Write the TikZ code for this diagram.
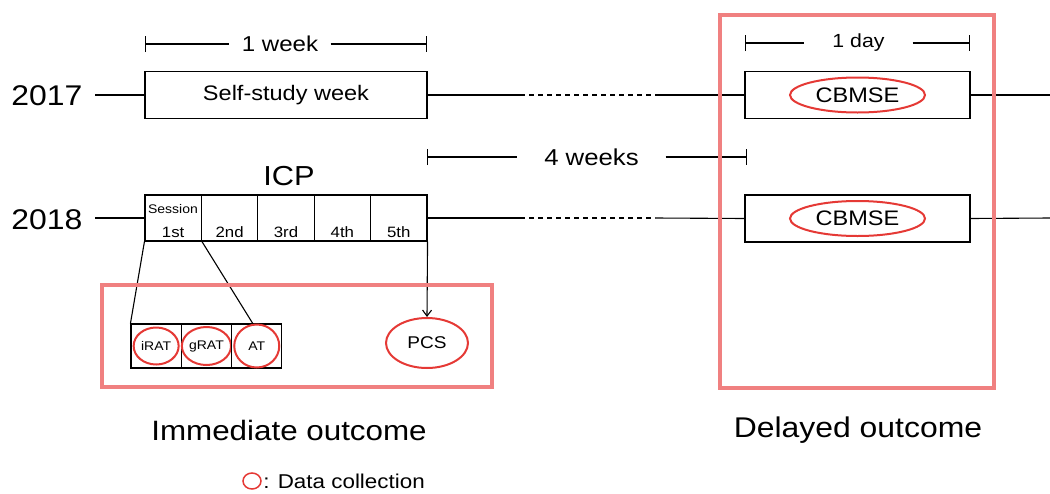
\documentclass[tikz,border=0pt]{standalone}
\usepackage{fontspec}
\setmainfont[FakeStretch=1.12]{Liberation Sans}
\usetikzlibrary{calc,positioning,shapes.geometric,arrows.meta}
\definecolor{boxred}{HTML}{F08080}
\definecolor{ringred}{HTML}{E53935}
\newcommand{\fsz}[1]{\fontsize{#1}{#1}\selectfont}

\begin{document}
\begin{tikzpicture}[x=1pt,y=-1pt,line width=1.1pt,
        period/.style={draw,minimum height=47pt,inner sep=0pt,font=\fsz{21}},
        session/.style={draw,minimum width=\sw pt,minimum height=46pt,inner sep=0pt},
        test/.style={draw,minimum width=50.3pt,minimum height=44pt,inner sep=0pt},
        ring/.style={draw=ringred,ellipse,line width=2pt,inner sep=0pt},
        spanlabel/.style={minimum width=#1,inner sep=0pt},
        year/.style={font=\fsz{28.5}},
        outcome/.style={draw=boxred,line width=4pt},
        gap/.style={dash pattern=on 5pt off 4pt},
        tick/.style={{Bar[width=16pt]}-},
        ticked/.style={-{Bar[width=16pt]}},
    ]
                \pgfmathsetmacro\sw{56.4} % session width
                \useasboundingbox (0,0) rectangle (1050,493);
                % years
                \node[year] (y17) at (47,96) {2017};
                \node[year] (y18) at (47,220) {2018};
                % 2017 row
                \node[period,minimum width=282pt] (ssw) at (286,95) {Self-study week};
                \node[period,minimum width=225pt] (cb17) at (857.5,95) {};
                \node[ring,minimum width=135pt,minimum height=35pt,font=\fsz{21}] (r17) at (cb17) {CBMSE};
                \coordinate (a17) at (95,95);
                \coordinate (d17a) at (520,95);
                \coordinate (d17b) at (655,95);
                \coordinate (z17) at (1050,95);
                \draw (a17) -- (ssw.west);
                \draw (ssw.east) -- (d17a);
                \draw[gap] (d17a) -- (d17b);
                \draw (d17b) -- (cb17.west);
                \draw (cb17.east) -- (z17);
                % spans
                \node[spanlabel=100pt,font=\fsz{21.5}] (wk) at (280,44) {1 week};
                \coordinate (wka) at (145,44);
                \coordinate (wkb) at (427,44);
                \draw[tick] (wka) -- (wk.west);
                \draw[ticked] (wk.east) -- (wkb);
                \node[spanlabel=107pt,font=\fsz{19}] (dy) at (858.5,43) {1 day};
                \coordinate (dya) at (745,43);
                \coordinate (dyb) at (970,43);
                \draw[tick] (dya) -- (dy.west);
                \draw[ticked] (dy.east) -- (dyb);
                \node[spanlabel=147pt,font=\fsz{23}] (fw) at (591.5,157) {4 weeks};
                \coordinate (fwa) at (427,157);
                \coordinate (fwb) at (747,157);
                \draw[tick] (fwa) -- (fw.west);
                \draw[ticked] (fw.east) -- (fwb);
                % 2018 row
                \node[font=\fsz{27.5}] (icp) at (289,176) {ICP};
                \foreach \i/\t in {1/1st,2/2nd,3/3rd,4/4th,5/5th} {%
                    \node[session] (s\i) at ({145+\sw*(\i-0.5)},218) {};
                    \node[font=\fsz{15}] (t\i) at ($(s\i)+(0,14)$) {\t};
                }
                \node[font=\fsz{12.5}] (sess) at (173,209) {Session};
                \node[period,minimum width=225pt] (cb18) at (857.5,218.5) {};
                \node[ring,minimum width=135pt,minimum height=35pt,font=\fsz{21}] (r18) at (cb18) {CBMSE};
                \coordinate (a18) at (95,218);
                \coordinate (d18a) at (520,218);
                \coordinate (d18b) at (655,218);
                \coordinate (z18) at (1050,218);
                \draw (a18) -- (s1.west);
                \draw (s5.east) -- (d18a);
                \draw[gap] (d18a) -- (d18b);
                \draw (d18b) -- (cb18.west);
                \draw (cb18.east) -- (z18);
                % data collected in session
                \foreach \i/\t/\h in {1/iRAT/37,2/gRAT/38,3/AT/43} {%
                    \node[test] (b\i) at ({131+50.3*(\i-0.5)},346) {};
                    \node[ring,minimum width=45pt,minimum height=\h pt,font=\fsz{12.5}] (c\i) at (b\i) {\t};
                }
                \draw (s1.south west) -- (b1.north west);
                \draw (s1.south east) -- ($(b3.north)+(-4,0)$);
                \node[ring,minimum width=82pt,minimum height=50pt,font=\fsz{17}] (pcs) at (427,343) {PCS};
                \draw[-{Straight Barb[length=6pt,width=9pt]}] (s5.south east) -- (pcs.north);
                % outcome frames
                \draw[outcome] (102,285) rectangle (492,387);
                \draw[outcome] (720,15) rectangle (994,388);
                \node[font=\fsz{28}] (imm) at (289,430) {Immediate outcome};
                \node[font=\fsz{28.5}] (del) at (858,430) {Delayed outcome};
                % key
                \node[ring,line width=1.5pt,minimum width=18pt,minimum height=16pt] (key) at (252,481) {};
                \node[font=\fsz{20},anchor=west,inner sep=1pt] (keytxt) at (key.east) {: Data collection};
            \end{tikzpicture}
\end{document}
